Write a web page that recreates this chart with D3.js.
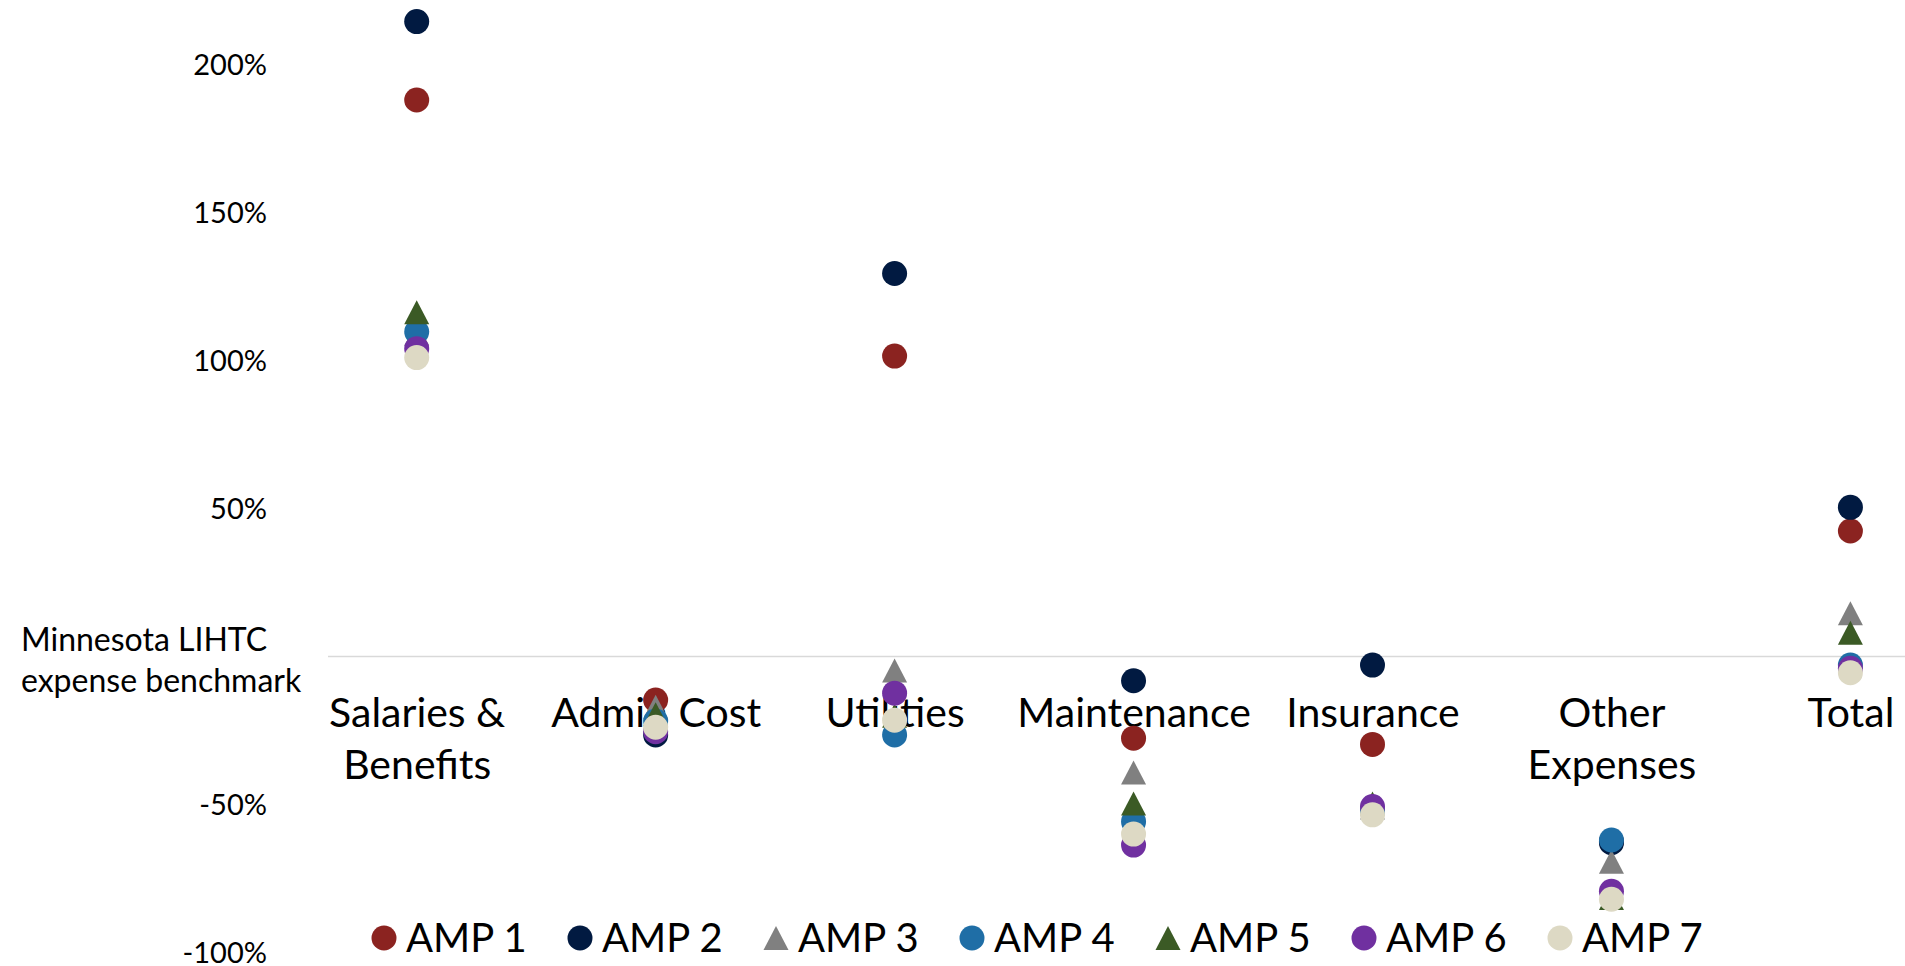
<!DOCTYPE html>
<html>
<head>
<meta charset="utf-8">
<script src="https://cdn.jsdelivr.net/npm/d3@7/dist/d3.min.js"></script>
<style>
  html, body { margin: 0; padding: 0; background: #ffffff; }
  svg { display: block; }
  text { font-family: Lato, "Open Sans", sans-serif; fill: #000000; }
</style>
</head>
<body>
<script>
// Expense categories along the horizontal axis
const categories = ["Salaries & Benefits", "Admin Cost", "Utilities", "Maintenance", "Insurance", "Other Expenses", "Total"];
const categoryLines = [["Salaries &", "Benefits"], ["Admin Cost"], ["Utilities"], ["Maintenance"], ["Insurance"], ["Other", "Expenses"], ["Total"]];

// Percent difference from the Minnesota LIHTC expense benchmark, per AMP
const amp1 = [188.0, -14.7, 101.5, -27.6, -29.7, -62.5, 42.4];
const amp2 = [214.5, -26.5, 129.4, -8.2, -2.9, -62.9, 50.4];
const amp3 = [109.0, -17.0, -4.7, -39.2, -51.0, -69.3, 14.6];
const amp4 = [109.7, -21.8, -26.5, -55.8, -52.0, -62.0, -2.9];
const amp5 = [116.3, -19.5, -20.0, -49.7, -49.7, -81.6, 8.0];
const amp6 = [104.0, -25.4, -12.4, -63.7, -50.7, -79.3, -4.0];
const amp7 = [101.0, -23.9, -21.5, -60.0, -53.5, -82.0, -5.5];

const seriesNames = ["AMP 1", "AMP 2", "AMP 3", "AMP 4", "AMP 5", "AMP 6", "AMP 7"];
const seriesValues = [amp1, amp2, amp3, amp4, amp5, amp6, amp7];
const seriesShapes = ["circle", "circle", "triangle", "circle", "triangle", "circle", "circle"];
const seriesColors = ["#8b2320", "#011a41", "#808080", "#1f6ea6", "#3b5a25", "#7030a0", "#ddd9c4"];

// Value axis ticks (the zero line carries its own label)
const yTicks = [-100, -50, 50, 100, 150, 200];
const benchmarkLabel = ["Minnesota LIHTC", "expense benchmark"];

const W = 1905, H = 966;
const svg = d3.select("body").append("svg").attr("width", W).attr("height", H);

const x = d3.scalePoint().domain(categories).range([416.7, 1850.4]);
const y = d3.scaleLinear().domain([-100, 200]).range([952.5, 64.5]);

// Benchmark (zero) line
svg.append("line")
  .attr("x1", 328).attr("x2", W)
  .attr("y1", y(0)).attr("y2", y(0))
  .attr("stroke", "#d9d9d9").attr("stroke-width", 1.5);

// Value axis labels
const yAxis = svg.append("g")
  .attr("transform", "translate(267,0)")
  .call(d3.axisLeft(y).tickValues(yTicks).tickFormat(d => d + "%").tickSize(0).tickPadding(0));
yAxis.select(".domain").remove();
yAxis.selectAll("text")
  .style("font-family", "Lato, 'Open Sans', sans-serif")
  .style("font-size", "29px")
  .attr("fill", "#000")
  .attr("dy", "0.33em");

// Label for the zero line
svg.append("text")
  .attr("x", 21).attr("y", 651)
  .style("font-size", "32px")
  .selectAll("tspan").data(benchmarkLabel).join("tspan")
  .attr("x", 21).attr("dy", (d, i) => i === 0 ? 0 : 40.5)
  .text(d => d);

// Category labels
const xAxis = svg.append("g")
  .attr("transform", `translate(0,${y(0)})`)
  .call(d3.axisBottom(x).tickSize(0).tickFormat(""));
xAxis.select(".domain").remove();
xAxis.selectAll(".tick").each(function (d, i) {
  const t = d3.select(this).append("text")
    .attr("text-anchor", "middle")
    .attr("y", 70)
    .style("font-size", "41px")
    .attr("fill", "#000");
  t.selectAll("tspan").data(categoryLines[i]).join("tspan")
    .attr("x", 0).attr("dy", (d, j) => j === 0 ? 0 : 52.5)
    .text(d => d);
});

// Marker shapes
const MARK = 25;
function trianglePath(w, h) {
  const p = d3.path();
  p.moveTo(0, -h / 2);
  p.lineTo(w / 2, h / 2);
  p.lineTo(-w / 2, h / 2);
  p.closePath();
  return p.toString();
}
function drawMarker(sel, shape, color) {
  if (shape === "circle") {
    sel.append("circle").attr("r", MARK / 2).attr("fill", color);
  } else {
    sel.append("path").attr("d", trianglePath(MARK, MARK - 1)).attr("fill", color);
  }
}

// Points, series drawn in order so later AMPs sit on top
seriesValues.forEach((vals, s) => {
  const g = svg.append("g").attr("class", "series");
  g.selectAll("g").data(vals).join("g")
    .attr("transform", (v, i) => `translate(${x(categories[i])},${y(v)})`)
    .each(function () { drawMarker(d3.select(this), seriesShapes[s], seriesColors[s]); });
});

// Legend
const legend = d3.scalePoint().domain(seriesNames).range([384, 1560]);
const lg = svg.append("g").attr("transform", "translate(0,938)");
seriesNames.forEach((name, s) => {
  const item = lg.append("g").attr("transform", `translate(${legend(name)},0)`);
  drawMarker(item, seriesShapes[s], seriesColors[s]);
  item.append("text")
    .attr("x", 22).attr("dy", "0.36em")
    .style("font-size", "40px")
    .text(name);
});
</script>
</body>
</html>
